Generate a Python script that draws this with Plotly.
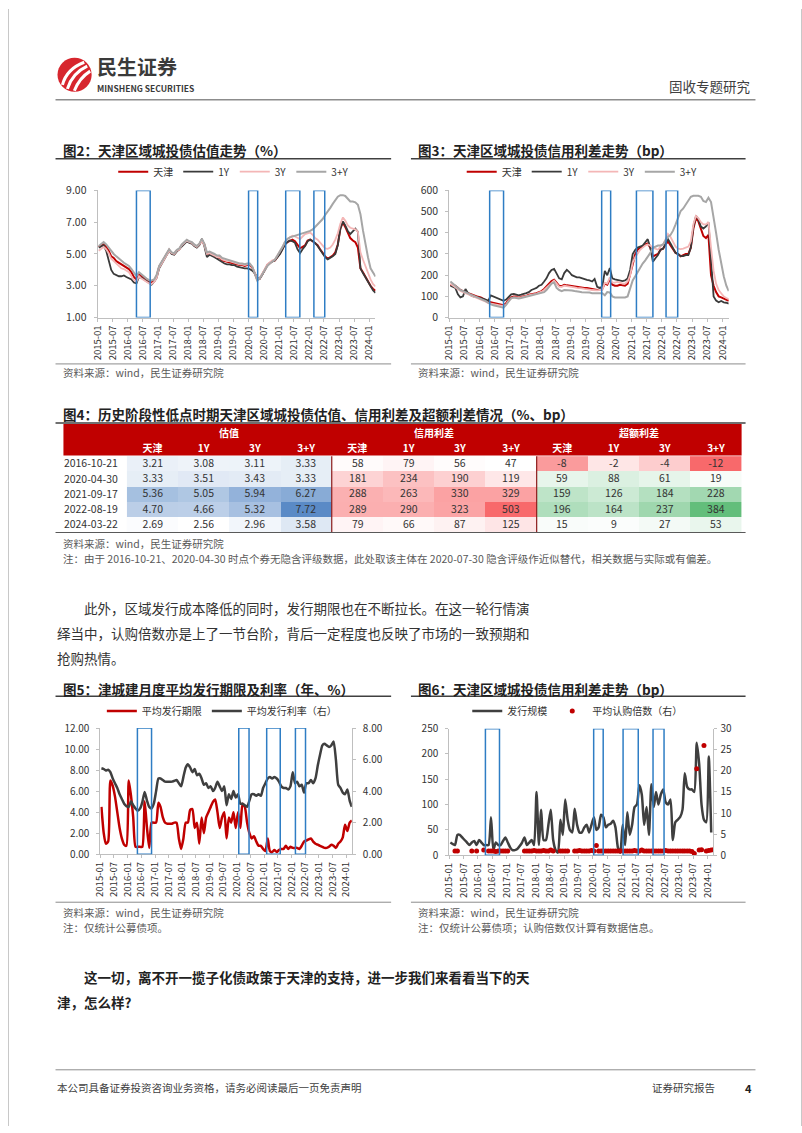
import plotly.graph_objects as go
import pandas as pd

W, H = 802, 1133
FONT = "Noto Sans CJK SC"


def fx(px):
    return px / W


def fy(py):
    return 1 - py / H


# ---------------- data ----------------
months = pd.date_range("2015-01-01", periods=111, freq="MS") + pd.Timedelta(days=14)

# Fig2: valuation (%)
tj_val = [5.45, 5.55, 5.60, 5.45, 5.20, 4.85, 4.75, 4.55, 4.45, 4.35, 4.25, 4.15,
          4.05, 3.85, 3.55, 3.40, 3.75, 3.60, 3.45, 3.35, 3.25, 3.21, 3.30, 3.60,
          4.20, 4.45, 4.70, 4.95, 5.25, 5.05, 5.00, 5.20, 5.30, 5.55, 5.70, 5.85,
          5.75, 5.70, 5.55, 5.45, 5.60, 5.85, 5.60, 5.00, 5.05, 5.00, 4.85, 4.75,
          4.80, 4.60, 4.55, 4.50, 4.50, 4.45, 4.40, 4.35, 4.30, 4.30, 4.25, 4.30,
          4.30, 4.15, 3.80, 3.40, 3.45, 3.70, 4.00, 4.30, 4.45, 4.55, 4.60, 4.80,
          5.05, 5.35, 5.60, 5.75, 5.85, 5.90, 5.80, 5.60, 5.36, 5.45, 5.55, 5.85,
          5.90, 5.80, 5.65, 5.55, 5.30, 5.05, 4.85, 4.70, 4.80, 4.90, 5.10, 5.60,
          6.60, 7.00, 6.70, 6.30, 6.00, 5.85, 5.75, 5.40, 4.10, 3.85, 3.55, 3.35,
          3.00, 2.80, 2.69]
y1_val = [5.40, 5.50, 5.55, 5.20, 4.60, 4.00, 3.75, 3.65, 3.60, 3.60, 3.65, 3.55,
          3.50, 3.40, 3.20, 3.15, 3.55, 3.50, 3.40, 3.30, 3.20, 3.08, 3.25, 3.50,
          4.10, 4.40, 4.60, 4.90, 5.20, 5.00, 4.95, 5.15, 5.30, 5.50, 5.65, 5.80,
          5.70, 5.65, 5.50, 5.40, 5.55, 5.95, 5.50, 4.80, 4.95, 4.90, 4.80, 4.70,
          4.60, 4.45, 4.40, 4.35, 4.35, 4.30, 4.30, 4.20, 4.15, 4.15, 4.10, 4.10,
          4.05, 3.95, 3.80, 3.51, 3.45, 3.70, 4.00, 4.30, 4.45, 4.55, 4.60, 4.80,
          5.00, 5.30, 5.60, 5.75, 5.85, 5.80, 5.70, 5.30, 5.05, 5.30, 5.50, 5.80,
          5.90, 5.80, 5.70, 5.50, 5.25, 5.00, 4.80, 4.66, 4.75, 4.85, 5.00, 5.55,
          6.60, 7.05, 6.80, 6.45, 6.25, 6.45, 6.60, 6.40, 4.10, 3.80, 3.50, 3.25,
          2.95, 2.70, 2.56]
y3_val = [5.20, 5.35, 5.45, 5.30, 5.05, 4.70, 4.55, 4.40, 4.25, 4.10, 4.05, 3.95,
          3.85, 3.60, 3.35, 3.25, 3.60, 3.45, 3.35, 3.20, 3.15, 3.11, 3.25, 3.50,
          4.15, 4.40, 4.65, 4.90, 5.20, 5.05, 5.00, 5.20, 5.30, 5.55, 5.70, 5.85,
          5.75, 5.70, 5.55, 5.45, 5.60, 5.85, 5.55, 5.00, 5.05, 5.00, 4.90, 4.80,
          4.80, 4.65, 4.60, 4.55, 4.55, 4.50, 4.45, 4.40, 4.35, 4.35, 4.30, 4.35,
          4.35, 4.20, 3.85, 3.43, 3.50, 3.75, 4.05, 4.35, 4.50, 4.60, 4.65, 4.90,
          5.15, 5.45, 5.75, 5.95, 6.05, 6.15, 6.10, 6.00, 5.94, 6.10, 6.25, 6.30,
          6.35, 6.20, 6.00, 5.90, 5.70, 5.50, 5.35, 5.32, 5.40, 5.60, 5.90, 6.30,
          6.90, 7.30, 7.10, 6.80, 6.65, 6.60, 6.55, 6.40, 5.10, 4.65, 4.20, 3.80,
          3.40, 3.10, 2.96]
y3p_val = [5.50, 5.65, 5.75, 5.60, 5.40, 5.15, 5.00, 4.85, 4.70, 4.55, 4.45, 4.35,
           4.25, 4.05, 3.80, 3.60, 3.85, 3.70, 3.55, 3.45, 3.35, 3.33, 3.40, 3.70,
           4.25, 4.50, 4.75, 5.00, 5.30, 5.10, 5.05, 5.25, 5.35, 5.60, 5.75, 5.90,
           5.80, 5.75, 5.60, 5.50, 5.65, 5.95, 5.65, 5.10, 5.15, 5.10, 5.00, 4.90,
           4.90, 4.75, 4.70, 4.65, 4.60, 4.55, 4.50, 4.45, 4.40, 4.40, 4.35, 4.40,
           4.40, 4.20, 3.80, 3.33, 3.45, 3.70, 3.95, 4.25, 4.40, 4.55, 4.65, 4.90,
           5.15, 5.45, 5.75, 5.95, 6.05, 6.10, 6.15, 6.20, 6.27, 6.30, 6.35, 6.40,
           6.45, 6.55, 6.70, 6.85, 7.00, 7.20, 7.45, 7.72, 7.90, 8.15, 8.40, 8.60,
           8.70, 8.70, 8.65, 8.50, 8.30, 8.30, 8.25, 8.10, 7.50, 6.50, 5.50, 4.80,
           4.10, 3.80, 3.58]

# Fig3: credit spread (bp)
tj_spr = [155, 150, 150, 140, 130, 125, 120, 115, 110, 105, 100, 98,
          95, 90, 82, 75, 72, 68, 65, 62, 60, 58, 68, 85,
          95, 100, 100, 95, 98, 100, 102, 108, 110, 112, 115, 120,
          125, 135, 145, 160, 172, 178, 165, 150, 148, 155, 152, 150,
          150, 148, 145, 145, 142, 140, 140, 138, 135, 132, 130, 132,
          135, 160, 155, 181, 155, 150, 150, 155, 152, 150, 160, 200,
          250, 300, 320, 330, 335, 345, 350, 330, 288, 295, 300, 320,
          325, 345, 360, 340, 320, 305, 300, 289, 295, 300, 300, 330,
          420, 470, 455, 420, 385, 375, 390, 200, 150, 120, 100, 95,
          90, 82, 79]
y1_spr = [150, 145, 140, 110, 95, 100, 135, 115, 105, 100, 98, 95,
          92, 88, 85, 80, 105, 100, 95, 90, 85, 79, 85, 100,
          110, 112, 108, 105, 108, 110, 115, 120, 130, 135, 140, 150,
          155, 170, 185, 210, 225, 230, 205, 185, 180, 210, 225, 215,
          200, 195, 190, 190, 185, 180, 178, 175, 170, 182, 145, 140,
          145, 220, 200, 234, 185, 180, 178, 175, 172, 175, 185, 225,
          300, 320, 330, 335, 340, 355, 370, 330, 263, 280, 295, 320,
          325, 350, 370, 350, 325, 305, 300, 290, 290, 295, 295, 330,
          430, 480, 465, 430, 420, 430, 450, 260, 100, 80, 72, 78,
          72, 70, 66]
y3_spr = [160, 150, 145, 135, 125, 120, 115, 110, 105, 100, 95, 92,
          88, 82, 75, 68, 65, 62, 60, 58, 56, 56, 62, 80,
          90, 95, 95, 92, 95, 98, 100, 105, 108, 110, 112, 118,
          122, 130, 140, 155, 165, 175, 160, 145, 145, 150, 148, 145,
          145, 142, 140, 140, 138, 135, 135, 132, 130, 128, 128, 130,
          130, 165, 160, 190, 165, 165, 168, 165, 160, 160, 170, 200,
          260, 285, 305, 320, 330, 340, 345, 340, 330, 325, 320, 335,
          345, 370, 395, 380, 360, 335, 325, 323, 325, 330, 335, 360,
          440, 480, 470, 450, 440, 440, 450, 330, 220, 160, 130, 115,
          100, 92, 87]
y3p_spr = [170, 160, 150, 140, 130, 125, 120, 115, 110, 105, 100, 95,
           90, 85, 78, 70, 62, 58, 55, 52, 50, 47, 60, 75,
           92, 95, 92, 90, 92, 95, 98, 100, 102, 105, 108, 112,
           115, 120, 130, 145, 160, 165, 140, 130, 125, 130, 130, 128,
           128, 125, 125, 122, 120, 120, 118, 118, 115, 115, 112, 115,
           115, 105, 120, 119, 100, 95, 95, 92, 92, 95, 100, 140,
           175, 195, 215, 240, 255, 270, 285, 305, 329, 335, 340, 340,
           345, 365, 380, 390, 410, 440, 470, 503, 515, 535, 555, 570,
           575, 575, 575, 570, 550, 545, 565, 545, 480, 400, 320, 250,
           195, 150, 125]

# Fig5: average issuance term (yrs) and rate (%)
term_val = [4.5, 2.0, 1.0, 1.2, 7.0, 6.5, 5.5, 4.0, 2.5, 1.5, 0.9, 0.8,
            7.0, 5.5, 3.5, 0.7, 0.7, 0.7, 0.7, 5.0, 2.5, 0.6, 3.0, 3.0,
            3.0, 4.9, 4.5, 3.5, 3.0, 2.9, 2.9, 2.9, 3.0, 3.0, 1.5, 0.5,
            1.5, 3.0, 3.0, 4.2, 4.3, 2.5, 3.0, 1.0, 3.5, 2.0, 3.5, 4.0,
            4.5, 5.0, 5.2, 4.0, 2.5, 3.5, 4.0, 1.5, 3.5, 3.0, 4.0, 2.5,
            4.0, 2.5, 4.8, 4.5, 3.0, 2.0, 1.5, 1.7, 1.2, 0.8, 0.8, 0.5,
            0.3, 1.5, 0.3, 0.2, 0.4, 0.2, 0.4, 0.5, 0.5, 0.8, 0.5, 0.7,
            0.6, 0.6, 0.6, 0.5, 0.8, 1.2, 1.3, 1.4, 1.5, 1.2, 1.0, 0.9,
            0.8, 0.7, 0.6, 0.6, 0.7, 0.9, 0.8, 0.6, 1.0, 1.2, 1.6, 2.8,
            2.2, 3.0, 3.2]
rate_val = [5.45, 5.40, 5.30, 5.35, 5.20, 4.80, 4.50, 4.20, 3.80, 3.50, 3.20, 3.05,
            3.00, 3.35, 3.10, 2.90, 2.75, 2.90, 3.30, 3.95, 3.40, 3.00, 2.90, 3.20,
            4.00, 4.80, 4.80, 4.70, 4.60, 4.60, 4.60, 4.60, 4.65, 4.70, 4.50, 4.30,
            4.90, 5.50, 5.70, 5.50, 5.20, 5.40, 5.00, 5.10, 4.80, 4.40, 4.50, 4.20,
            4.30, 4.00, 4.20, 4.60, 4.30, 4.00, 4.30, 3.10, 3.80, 3.50, 4.00, 3.60,
            3.80, 3.20, 3.20, 3.10, 3.00, 3.40, 3.80, 3.80, 3.70, 3.80, 3.70, 4.20,
            4.50, 4.80, 4.90, 4.80, 4.90, 4.80, 4.60, 4.30, 4.20, 4.20, 4.10, 4.30,
            5.20, 4.50, 4.60, 4.30, 4.40, 3.90, 4.50, 4.50, 4.70, 4.50, 4.80, 5.60,
            6.30, 6.90, 7.00, 6.90, 6.80, 6.90, 7.15, 6.00, 4.40, 4.20, 3.90, 3.80,
            4.10, 3.40, 3.00]

# Fig6: issuance scale and average subscription multiple
scale_val = [25, 22, 20, 40, 40, 35, 30, 25, 20, 25, 28, 20,
             30, 25, 20, 20, 20, 75, 10, 25, 20, 20, 28, 35,
             25, 15, 10, 10, 12, 18, 25, 35, 20, 25, 30, 20,
             125, 20, 90, 30, 30, 60, 90, 30, 10, 5, 70, 40,
             110, 70, 50, 45, 92, 60, 45, 45, 55, 60, 45, 60,
             75, 50, 55, 80, 75, 55, 60, 62, 68, 55, 15, 5,
             60, 20, 85, 40, 60, 95, 100, 138, 120, 60, 95, 40,
             140, 95, 125, 100, 120, 130, 105, 100, 110, 30, 65, 70,
             75, 90, 162, 135, 130, 130, 125, 222, 180, 100, 70, 65,
             195, 45, None]
mult_val = [None, None, 1.0, 1.0, None, None, None, None, None, 1.0, None, 1.0,
            None, None, 1.2, None, 1.0, 1.0, 1.0, 0.9, 1.0, 1.0, 1.0, 1.0,
            1.0, None, None, None, None, None, None, 1.0, 1.0, 1.0, 1.0, 1.1,
            1.0, 1.0, 1.0, 1.1, 1.0, 1.0, 1.2, 1.0, None, None, 1.0, 1.0,
            1.0, 1.0, None, None, 1.0, 1.0, 1.1, 1.0, 1.0, 1.0, 1.0, 1.1,
            1.0, 2.3, 1.0, 1.0, 1.0, 1.0, 1.0, 1.0, 1.0, 1.0, 1.0, 1.0,
            1.0, 1.0, 1.0, 1.0, 1.0, 1.1, 1.0, 1.0, 1.2, 1.0, 1.0, 1.0,
            1.0, 1.0, 1.0, 1.0, 1.0, 1.0, 1.1, 1.0, 1.0, 1.0, 1.0, 1.0,
            1.0, 1.0, 1.0, 1.0, 1.0, 0.9, 0.4, 20.5, 1.2, 1.3, 26.0, 1.0,
            1.1, 1.2, 1.3]

# Fig4 table
tbl_dates = ["2016-10-21", "2020-04-30", "2021-09-17", "2022-08-19", "2024-03-22"]
tbl_cols = ["天津", "1Y", "3Y", "3+Y"]
tbl_groups = ["估值", "信用利差", "超额利差"]
val_tbl = [[3.21, 3.08, 3.11, 3.33], [3.33, 3.51, 3.43, 3.33], [5.36, 5.05, 5.94, 6.27],
           [4.70, 4.66, 5.32, 7.72], [2.69, 2.56, 2.96, 3.58]]
spr_tbl = [[58, 79, 56, 47], [181, 234, 190, 119], [288, 263, 330, 329],
           [289, 290, 323, 503], [79, 66, 87, 125]]
exc_tbl = [[-8, -2, -4, -12], [59, 88, 61, 19], [159, 126, 184, 228],
           [196, 164, 237, 384], [15, 9, 27, 53]]

# highlighted periods (blue boxes)
box_fig2 = [("2016-04-15", "2016-09-28"), ("2020-01-01", "2020-04-20"),
            ("2021-03-25", "2021-09-12"), ("2022-03-01", "2022-07-10")]
box_fig3 = [("2016-05-01", "2016-10-15"), ("2020-01-08", "2020-04-25"),
            ("2021-03-01", "2021-09-15"), ("2022-02-20", "2022-07-10")]
box_fig5 = [("2016-05-10", "2016-11-15"), ("2020-01-25", "2020-06-10"),
            ("2021-02-01", "2021-08-01"), ("2022-02-20", "2022-07-05")]
box_fig6 = [("2016-04-05", "2016-10-01"), ("2020-01-12", "2020-05-12"),
            ("2021-01-20", "2021-08-01"), ("2022-02-05", "2022-06-25")]

# ---------------- styles ----------------
C_RED = "#C00000"
C_DARK = "#3A3A3A"
C_PINK = "#F4B6B6"
C_GRAY = "#A6A6A6"
C_BOX = "#2E7DC4"
AX = "#BFBFBF"
TXT = "#333333"

fig = go.Figure()

# Fig2 traces
for nm, ys, col, wd in [("天津", tj_val, C_RED, 2), ("1Y", y1_val, C_DARK, 1.8),
                        ("3Y", y3_val, C_PINK, 1.8), ("3+Y", y3p_val, C_GRAY, 2)]:
    fig.add_trace(go.Scatter(x=months, y=ys, name=nm, mode="lines",
                             line=dict(color=col, width=wd), xaxis="x", yaxis="y",
                             legend="legend"))
# Fig3 traces
for nm, ys, col, wd in [("天津", tj_spr, C_RED, 2), ("1Y", y1_spr, C_DARK, 1.8),
                        ("3Y", y3_spr, C_PINK, 1.8), ("3+Y", y3p_spr, C_GRAY, 2)]:
    fig.add_trace(go.Scatter(x=months, y=ys, name=nm, mode="lines",
                             line=dict(color=col, width=wd), xaxis="x2", yaxis="y2",
                             legend="legend2"))
# Fig5 traces
fig.add_trace(go.Scatter(x=months, y=term_val, name="平均发行期限", mode="lines",
                         line=dict(color=C_RED, width=2.5, shape="spline", smoothing=0.6),
                         xaxis="x3", yaxis="y3", legend="legend3"))
fig.add_trace(go.Scatter(x=months, y=rate_val, name="平均发行利率（右）", mode="lines",
                         line=dict(color="#3F3F3F", width=2.5, shape="spline", smoothing=0.6),
                         xaxis="x3", yaxis="y4", legend="legend3"))
# Fig6 traces
fig.add_trace(go.Scatter(x=months, y=scale_val, name="发行规模", mode="lines",
                         line=dict(color="#3F3F3F", width=2.5, shape="spline", smoothing=0.6),
                         xaxis="x4", yaxis="y5", legend="legend4"))
fig.add_trace(go.Scatter(x=months, y=mult_val, name="平均认购倍数（右）", mode="markers",
                         marker=dict(color=C_RED, size=5), xaxis="x4", yaxis="y6",
                         legend="legend4"))

# Fig4 heatmap table
blocks = [(val_tbl, [[0, "#FFFFFF"], [1, "#5A8AC6"]], "%{z:.2f}"),
          (spr_tbl, [[0, "#FFFFFF"], [1, "#F8696B"]], "%{z:.0f}"),
          (exc_tbl, None, "%{z:.0f}")]
for bi, (tb, cs, tt) in enumerate(blocks):
    flat = [v for row in tb for v in row]
    zmin, zmax = min(flat), max(flat)
    if cs is None:
        mid = (0 - zmin) / (zmax - zmin)
        cs = [[0, "#F8696B"], [mid, "#FFFFFF"], [1, "#63BE7B"]]
    fig.add_trace(go.Heatmap(x=[bi * 4 + i for i in range(4)], y=tbl_dates, z=tb,
                             colorscale=cs, zmin=zmin, zmax=zmax, showscale=False,
                             texttemplate=tt,
                             textfont=dict(size=10.5, color=TXT, family=FONT),
                             xaxis="x5", yaxis="y7", hoverinfo="skip"))


# ---------------- axes ----------------
def date_x(px0, px1, anchor):
    return dict(domain=[fx(px0), fx(px1)], anchor=anchor, type="date",
                range=["2015-01-01", "2024-03-15"], tickformat="%Y-%m", dtick="M6",
                tick0="2015-01-01", tickangle=-90, showline=True, linecolor=AX,
                ticks="outside", ticklen=3, tickcolor=AX, showgrid=False, zeroline=False,
                tickfont=dict(size=9.5, color=TXT, family=FONT))


def num_y(py0, py1, anchor, rng, dtick, fmt, side="left", overlay=None, standoff=5, size=10.5):
    d = dict(domain=[fy(py1), fy(py0)], anchor=anchor, range=rng, dtick=dtick,
             tick0=rng[0], tickformat=fmt, showline=True, linecolor=AX, ticks="outside",
             ticklen=3, tickcolor=AX, showgrid=False, zeroline=False, side=side,
             ticklabelstandoff=standoff,
             tickfont=dict(size=size, color=TXT, family=FONT))
    if overlay:
        d["overlaying"] = overlay
    return d


fig.update_layout(
    xaxis=date_x(90.5, 371.2, "y"),
    yaxis=num_y(184, 313, "x", [1, 9], 2, ".2f"),
    xaxis2=date_x(445.7, 728, "y2"),
    yaxis2=num_y(184, 313, "x2", [0, 600], 100, "d"),
    xaxis3=date_x(93.3, 347.3, "y3"),
    yaxis3=num_y(729.3, 857.3, "x3", [0, 12], 2, ".2f", size=10),
    yaxis4=num_y(729.3, 857.3, "x3", [0, 8], 2, ".2f", side="right", overlay="y3", size=10),
    xaxis4=date_x(445.7, 712.6, "y5"),
    yaxis5=num_y(730, 858.3, "x4", [0, 250], 50, "d", size=10),
    yaxis6=num_y(730, 858.3, "x4", [0, 30], 5, "d", side="right", overlay="y5", standoff=1,
                 size=10),
    xaxis5=dict(domain=[fx(120), fx(741)], anchor="y7", range=[-0.5, 11.5], side="top",
                tickvals=list(range(12)), ticktext=tbl_cols * 3, ticks="", showline=False,
                showgrid=False, zeroline=False, ticklabelstandoff=1,
                tickfont=dict(size=10, color="#FFFFFF", family=FONT, weight="bold")),
    yaxis7=dict(domain=[fy(531), fy(453)], anchor="x5", type="category",
                autorange="reversed", ticks="", showline=False, showgrid=False,
                zeroline=False, ticklabelstandoff=8,
                tickfont=dict(size=10.5, color=TXT, family=FONT)),
)


# ---------------- legends ----------------
def leg(cx, cy):
    return dict(orientation="h", x=fx(cx), y=fy(cy), xanchor="center", yanchor="middle",
                bgcolor="rgba(0,0,0,0)", font=dict(size=10, color=TXT, family=FONT),
                itemwidth=30, tracegroupgap=0)


fig.update_layout(legend=leg(228, 165), legend2=leg(580, 165),
                  legend3=leg(216, 712), legend4=leg(575, 712))

# ---------------- shapes ----------------
shapes = []


def hline(x0, x1, y, color, width):
    shapes.append(dict(type="line", xref="paper", yref="paper", x0=fx(x0), x1=fx(x1),
                       y0=fy(y), y1=fy(y), line=dict(color=color, width=width)))


def boxes(periods, xr, yr, y0, y1):
    for a, b in periods:
        shapes.append(dict(type="rect", xref=xr, yref=yr, x0=a, x1=b, y0=y0, y1=y1,
                           line=dict(color=C_BOX, width=1.5), fillcolor="rgba(0,0,0,0)"))


boxes(box_fig2, "x", "y", 1, 9)
boxes(box_fig3, "x2", "y2", 0, 600)
boxes(box_fig5, "x3", "y3", 0, 12)
boxes(box_fig6, "x4", "y5", 0, 250)

# page border
shapes.append(dict(type="line", xref="paper", yref="paper", x0=fx(0.5), x1=fx(0.5), y0=0, y1=1,
                   line=dict(color="#C8C8C8", width=1)))
shapes.append(dict(type="line", xref="paper", yref="paper", x0=fx(801.5), x1=fx(801.5), y0=0, y1=1,
                   line=dict(color="#C8C8C8", width=1)))

# header
hline(48, 755, 92, "#8C8C8C", 1.5)
shapes.append(dict(type="circle", xref="paper", yref="paper", x0=fx(50), x1=fx(84.5),
                   y0=fy(84), y1=fy(49.5), fillcolor="#D7262E", line=dict(width=0)))
for (sx, sy), (cx, cy), (ex, ey) in [((55, 77), (59, 61), (77, 54)),
                                     ((60, 81), (65, 65), (80, 58)),
                                     ((67, 83), (72, 70), (83, 63))]:
    shapes.append(dict(type="path", xref="paper", yref="paper",
                       path=f"M{fx(sx)},{fy(sy)} Q{fx(cx)},{fy(cy)} {fx(ex)},{fy(ey)}",
                       line=dict(color="#FFFFFF", width=3)))

# chart title underlines and source lines
hline(48, 387, 152, "#404040", 1.5)
hline(407, 745, 152, "#404040", 1.5)
hline(48, 387, 360, "#8C8C8C", 1)
hline(407, 745, 360, "#8C8C8C", 1)
hline(48, 745, 420, "#404040", 1.5)
hline(48, 745, 531, "#595959", 1.2)
hline(48, 387, 697, "#404040", 1.5)
hline(407, 745, 697, "#404040", 1.5)
hline(48, 387, 906, "#8C8C8C", 1)
hline(407, 745, 906, "#8C8C8C", 1)
hline(48, 755, 1076, "#8C8C8C", 1)

# table header band and separators
shapes.append(dict(type="rect", xref="paper", yref="paper", x0=fx(56), x1=fx(741),
                   y0=fy(453), y1=fy(421), fillcolor=C_RED, line=dict(width=0), layer="below"))
for sx in [3.5, 7.5]:
    shapes.append(dict(type="line", xref="x5", yref="y7", x0=sx, x1=sx, y0=-0.5, y1=4.5,
                       line=dict(color="#8B1A1A", width=1.2)))

# ---------------- texts ----------------
ann = []


def txt(s, x, y, size=10.5, color="#595959", bold=False, xanchor="left"):
    ann.append(dict(text=f"<b>{s}</b>" if bold else s, x=fx(x), y=fy(y), xref="paper",
                    yref="paper", xanchor=xanchor, yanchor="middle", showarrow=False,
                    font=dict(size=size, color=color, family=FONT)))


txt("民生证券", 88, 58, size=20, color="#3A3A3A", bold=True)
txt("MINSHENG SECURITIES", 88, 80, size=8.5, color="#3A3A3A", bold=True)
txt("固收专题研究", 752, 78, size=13.5, color="#404040", xanchor="right")

txt("图2：天津区域城投债估值走势（%）", 54, 143, size=13.5, color="#222222", bold=True)
txt("图3：天津区域城投债信用利差走势（bp）", 412, 143, size=13.5, color="#222222", bold=True)
txt("资料来源：wind，民生证券研究院", 54, 369)
txt("资料来源：wind，民生证券研究院", 412, 369)

txt("图4：历史阶段性低点时期天津区域城投债估值、信用利差及超额利差情况（%、bp）", 54, 411,
    size=13.5, color="#222222", bold=True)
for gi, g in enumerate(tbl_groups):
    txt(g, 120 + (gi * 4 + 2) * 51.75, 430, size=10, color="#FFFFFF", bold=True,
        xanchor="center")
txt("资料来源：wind，民生证券研究院", 54, 542)
txt("注：由于 2016-10-21、2020-04-30 时点个券无隐含评级数据，此处取该主体在 2020-07-30 隐含评级作近似替代，相关数据与实际或有偏差。",
    54, 557)

txt("此外，区域发行成本降低的同时，发行期限也在不断拉长。在这一轮行情演", 75, 608, size=13.5, color=TXT)
txt("绎当中，认购倍数亦是上了一节台阶，背后一定程度也反映了市场的一致预期和", 47, 633, size=13.5, color=TXT)
txt("抢购热情。", 47, 658, size=13.5, color=TXT)

txt("图5：津城建月度平均发行期限及利率（年、%）", 54, 690, size=13.5, color="#222222", bold=True)
txt("图6：天津区域城投债信用利差走势（bp）", 412, 690, size=13.5, color="#222222", bold=True)
txt("资料来源：wind，民生证券研究院", 54, 916)
txt("注：仅统计公募债项。", 54, 932)
txt("资料来源：wind，民生证券研究院", 412, 916)
txt("注：仅统计公募债项；认购倍数仅计算有数据信息。", 412, 932)

txt("这一切，离不开一揽子化债政策于天津的支持，进一步我们来看看当下的天", 75, 982, size=13.5,
    color="#222222", bold=True)
txt("津，怎么样?", 47, 1007, size=13.5, color="#222222", bold=True)

txt("本公司具备证券投资咨询业务资格，请务必阅读最后一页免责声明", 47, 1094, size=10.5, color="#404040")
txt("证券研究报告", 648, 1094, size=10.5, color="#404040")
txt("4", 748, 1094, size=11, color="#222222", bold=True, xanchor="center")

fig.update_layout(width=W, height=H, autosize=False, margin=dict(l=0, r=0, t=0, b=0),
                  paper_bgcolor="white", plot_bgcolor="white", shapes=shapes,
                  annotations=ann, font=dict(family=FONT, color=TXT), hovermode=False)

fig.write_html("out.html")
